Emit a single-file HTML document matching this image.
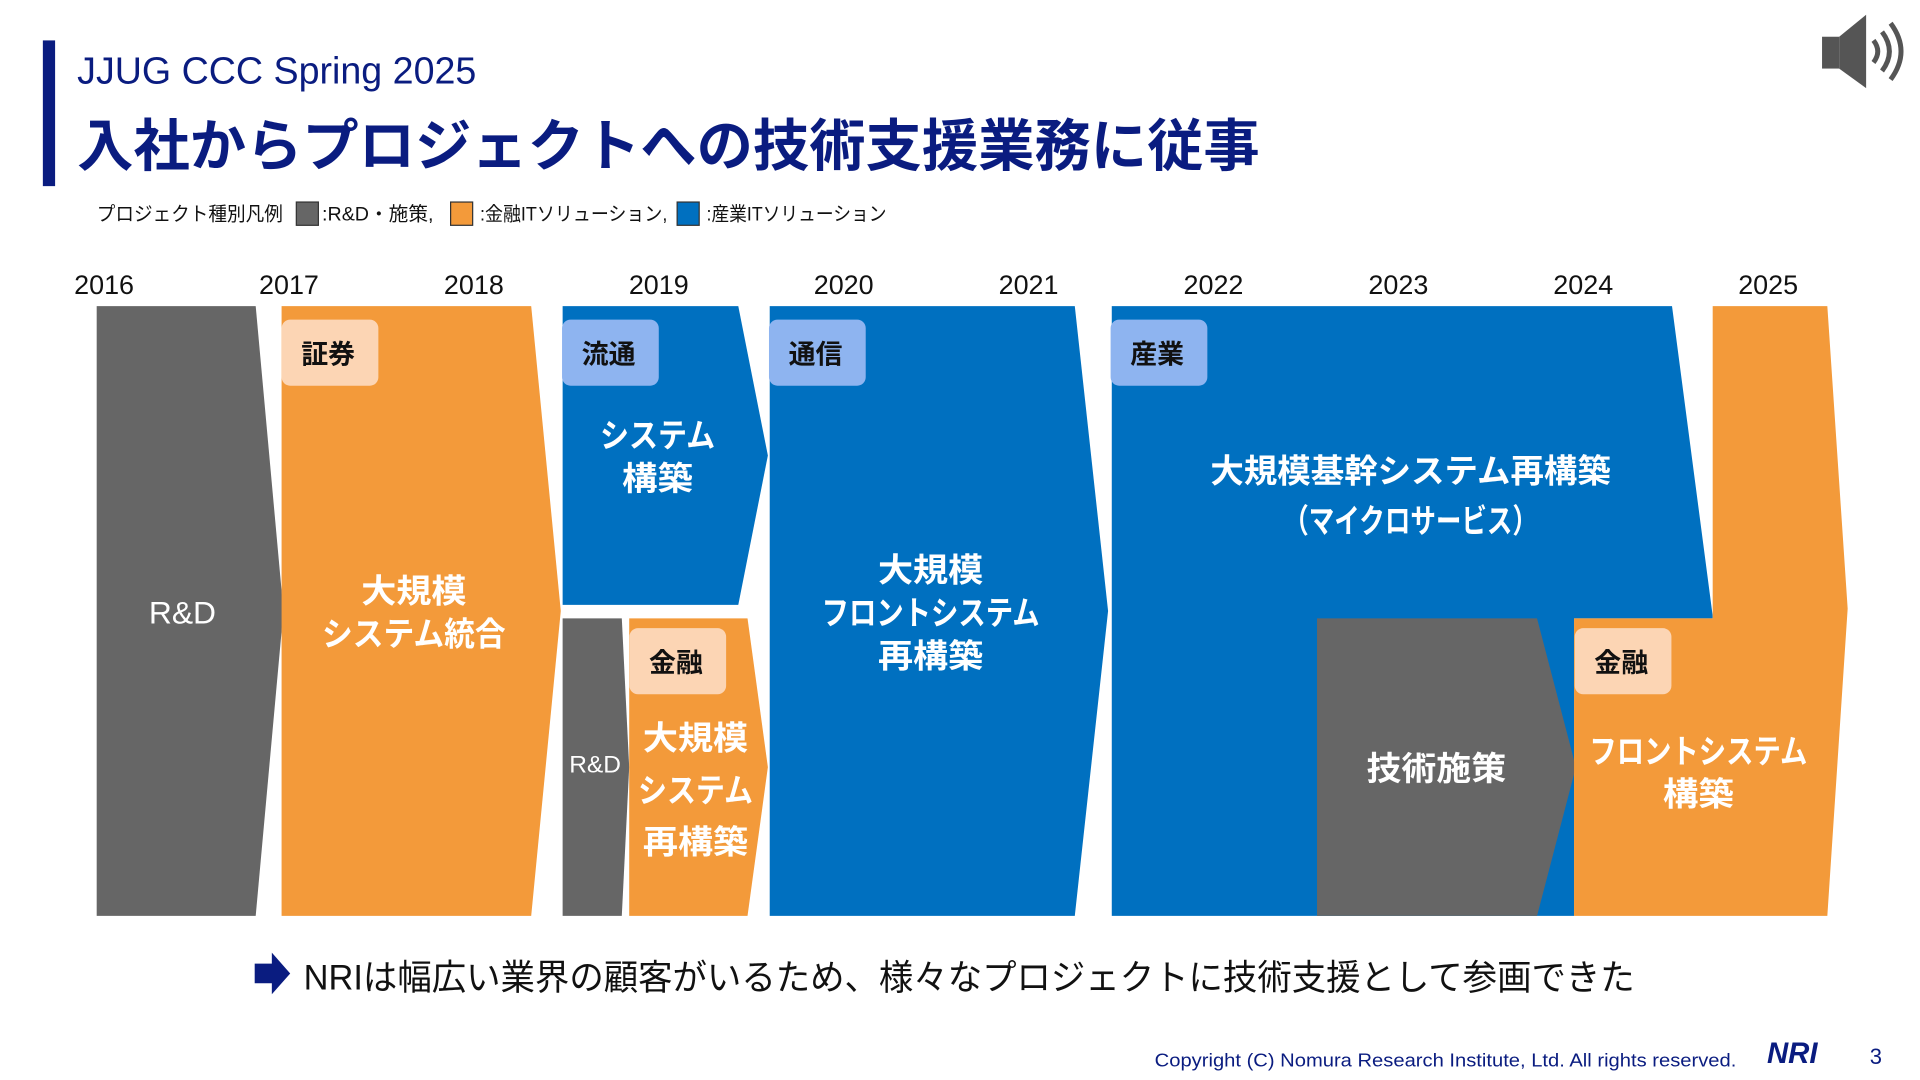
<!DOCTYPE html>
<html><head><meta charset="utf-8"><style>
html,body{margin:0;padding:0;background:#fff;}
svg{display:block;font-family:"Liberation Sans","Noto Sans CJK JP",sans-serif;}
</style></head><body>
<svg id="chart" width="1920" height="1080" viewBox="0 0 1568 882" xmlns="http://www.w3.org/2000/svg">
<rect x="35" y="33" width="10" height="119" fill="#0a1c80"/>
<text x="63" y="68" font-size="31" fill="#0a1c80" textLength="326" lengthAdjust="spacingAndGlyphs">JJUG CCC Spring 2025</text>
<text x="63" y="135" font-size="46" font-weight="bold" fill="#0a1c80">入社からプロジェクトへの技術支援業務に従事</text>
<g font-size="16" fill="#111">
<text x="79" y="180" textLength="152" lengthAdjust="spacingAndGlyphs">プロジェクト種別凡例</text>
<rect x="242" y="165" width="18" height="19" fill="#666" stroke="#333"/><text x="263" y="180" textLength="91" lengthAdjust="spacingAndGlyphs">:R&amp;D・施策,</text>
<rect x="368" y="165" width="18" height="19" fill="#f39a3a" stroke="#333"/><text x="392" y="180" textLength="153" lengthAdjust="spacingAndGlyphs">:金融ITソリューション,</text>
<rect x="553" y="165" width="18" height="19" fill="#0070c0" stroke="#333"/><text x="577" y="180" textLength="147" lengthAdjust="spacingAndGlyphs">:産業ITソリューション</text>
</g>
<g fill="#555">
<rect x="1488" y="30" width="14" height="26"/><polygon points="1502,30 1524,12 1524,72 1502,56"/>
<path d="M1530 33 Q1537 42 1530 51" stroke="#555" stroke-width="4" fill="none"/>
<path d="M1537 26 Q1549 42 1537 58" stroke="#555" stroke-width="4" fill="none"/>
<path d="M1544 19 Q1561 42 1544 65" stroke="#555" stroke-width="4" fill="none"/>
</g>
<g id="years"></g>
<g id="shapes"></g>
<g id="labels"></g>
<polygon points="208,787 222,787 222,778 237,795 222,812 222,803 208,803" fill="#0a1c80"/>
<text x="248" y="808" font-size="29" fill="#111" textLength="1087" lengthAdjust="spacingAndGlyphs">NRIは幅広い業界の顧客がいるため、様々なプロジェクトに技術支援として参画できた</text>
<text x="943" y="871" font-size="15" fill="#0a1c80" textLength="475" lengthAdjust="spacingAndGlyphs">Copyright (C)  Nomura Research Institute, Ltd. All rights reserved.</text>
<text x="1443" y="868" font-size="24" font-weight="bold" font-style="italic" fill="#0a1c80">NRI</text>
<text x="1527" y="869" font-size="18" fill="#0a1c80">3</text>
<script>
const years=[2016,2017,2018,2019,2020,2021,2022,2023,2024,2025];
const projNames=['rd-2016','securities-2017','distribution-2019','rd-2019','finance-2019','telecom-2020','tech-initiative-2023'];
const projCats=['rd','fin','ind','rd','fin','ind','rd'];
const projStart=[2015.96,2016.96,2018.48,2018.48,2018.84,2019.60,2022.56];
const projEnd=[2016.82,2018.31,2019.43,2018.80,2019.48,2021.25,2023.75];
const projTip=[2016.97,2018.47,2019.59,2018.84,2019.59,2021.43,2023.96];
const projLane=['full','full','top','bottom','bottom','full','bottom'];
const colors={rd:'#666666',fin:'#f39a3a',ind:'#0070c0'};
const NS='http://www.w3.org/2000/svg';
function xOf(y){return 85+(y-2016)*151;}
const lanes={full:[250,748],top:[250,494],bottom:[505,748]};
const yg=document.getElementById('years');
years.forEach(y=>{const t=document.createElementNS(NS,'text');


t.setAttribute('x',xOf(y));t.setAttribute('y',240);t.setAttribute('font-size','22');t.setAttribute('text-anchor','middle');t.setAttribute('fill','#111');t.textContent=y;yg.appendChild(t);});
const sg=document.getElementById('shapes');
function poly(name,pts,fill){const p=document.createElementNS(NS,'polygon');


p.setAttribute('points',pts.map(a=>a.join(',')).join(' '));p.setAttribute('fill',fill);sg.appendChild(p);}
poly('industry-2022',[[xOf(2021.45),250],[xOf(2024.48),250],[xOf(2024.70),503],[xOf(2024.70),505],[xOf(2023.95),505],[xOf(2023.95),748],[xOf(2021.45),748]],colors.ind);
projNames.forEach((n,i)=>{const [t,b]=lanes[projLane[i]];const x0=xOf(projStart[i]),x1=xOf(projEnd[i]),x2=xOf(projTip[i]);
poly(n,[[x0,t],[x1,t],[x2,(t+b)/2],[x1,b],[x0,b]],colors[projCats[i]]);});
poly('finance-2024',[[xOf(2024.70),250],[xOf(2025.32),250],[xOf(2025.43),497],[xOf(2025.32),748],[xOf(2023.95),748],[xOf(2023.95),505],[xOf(2024.70),505]],colors.fin);
const lg=document.getElementById('labels');
function txt(name,x,y,s,str,fill,bold,len){const t=document.createElementNS(NS,'text');


t.setAttribute('x',x);t.setAttribute('y',y);t.setAttribute('font-size',s);t.setAttribute('text-anchor','middle');t.setAttribute('fill',fill);if(bold)t.setAttribute('font-weight','bold');
if(len){t.setAttribute('textLength',len);t.setAttribute('lengthAdjust','spacingAndGlyphs');}
t.textContent=str;lg.appendChild(t);}
function tag(name,x,y,str,bg){const r=document.createElementNS(NS,'rect');


r.setAttribute('x',x);r.setAttribute('y',y);r.setAttribute('width',79);r.setAttribute('height',54);r.setAttribute('rx',7);r.setAttribute('fill',bg);lg.appendChild(r);
txt(name,x+38,y+36,22,str,'#111',true);}
const lo='#fcd5b4',lb='#8eb4f0';
tag('tag-securities',230,261,'証券',lo);tag('tag-distribution',459,261,'流通',lb);tag('tag-telecom',628,261,'通信',lb);
tag('tag-industry',907,261,'産業',lb);tag('tag-finance-2019',514,513,'金融',lo);tag('tag-finance-2024',1286,513,'金融',lo);
const W='#fff';
txt('label-rd-2016',149,509,26,'R&D',W);
txt('label-securities-1',338,492,27,'大規模',W,true,86);txt('label-securities-2',338,527,27,'システム統合',W,true,150);
txt('label-distribution-1',537,365,27,'システム',W,true,94);txt('label-distribution-2',537,400,27,'構築',W,true,58);
txt('label-rd-2019',486,631,20,'R&D',W);
txt('label-finance-2019-1',568,612,27,'大規模',W,true,86);txt('label-finance-2019-2',568,655,27,'システム',W,true,94);txt('label-finance-2019-3',568,697,27,'再構築',W,true,86);
txt('label-telecom-1',760,475,27,'大規模',W,true,86);txt('label-telecom-2',760,510,27,'フロントシステム',W,true,178);txt('label-telecom-3',760,545,27,'再構築',W,true,86);
txt('label-industry-1',1152,394,27,'大規模基幹システム再構築',W,true,327);txt('label-industry-2',1152,435,27,'（マイクロサービス）',W,true,208);
txt('label-tech-initiative',1173,637,27,'技術施策',W,true,114);
txt('label-finance-2024-1',1387,623,27,'フロントシステム',W,true,178);txt('label-finance-2024-2',1387,658,27,'構築',W,true,58);
</script>
</svg>
</body></html>
